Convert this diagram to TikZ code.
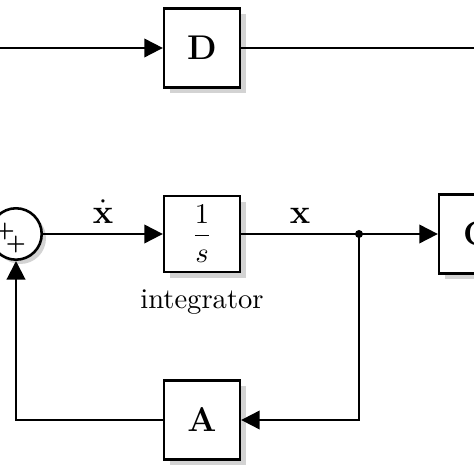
\documentclass[tikz,border=0pt]{standalone}
\usepackage{amsmath}
\usetikzlibrary{arrows.meta, positioning, shadows}
\tikzset{
  box/.style={draw, line width=0.9pt, fill=white, minimum width=26.5pt, minimum height=27.5pt,
    font=\large, drop shadow={opacity=0.35, shadow xshift=2pt, shadow yshift=-2pt}},
  sumnode/.style={draw, circle, line width=0.9pt, fill=white, minimum size=18pt, inner sep=0pt,
    drop shadow={opacity=0.35, shadow xshift=1.5pt, shadow yshift=-1.5pt}},
  arr/.style={-{Triangle[length=6.5pt, width=6.5pt]}, line width=0.7pt},
  wire/.style={line width=0.7pt},
}

\begin{document}
\begin{tikzpicture}[x=0.35pt, y=0.35pt]
    \useasboundingbox (0,0) rectangle (474,474);
    % feedthrough path
    \node[box] (dmat) at (202,426) {$\mathbf{D}$};
    \coordinate (din) at (-20,426);
    \coordinate (dout) at (494,426);
    \draw[arr] (din) -- (dmat);
    \draw[wire] (dmat) -- (dout);
    % state loop
    \node[sumnode] (sum) at (16,240) {};
    \node[font=\scriptsize\boldmath, inner sep=0pt] (plusw) at (5,242) {$+$};
    \node[font=\scriptsize\boldmath, inner sep=0pt] (pluss) at (16,229) {$+$};
    \node[box, minimum height=26.5pt, font=\normalsize] (integ) at (202,240) {$\dfrac{1}{s}$};
    \node[below=2pt of integ] (integlbl) {integrator};
    \node[box] (cmat) at (477,240) {$\mathbf{C}$};
    \node[box] (amat) at (202,54) {$\mathbf{A}$};
    \fill (359,240) circle (1.4pt) coordinate (split);
    \draw[arr] (sum) -- node[above, font=\large] {$\dot{\mathbf{x}}$} (integ);
    \draw[wire] (integ) -- node[above, font=\large] {$\mathbf{x}$} (split);
    \draw[arr] (split) -- (cmat);
    \draw[arr] (split) |- (amat);
    \draw[arr] (amat) -| (sum);
\end{tikzpicture}
\end{document}
